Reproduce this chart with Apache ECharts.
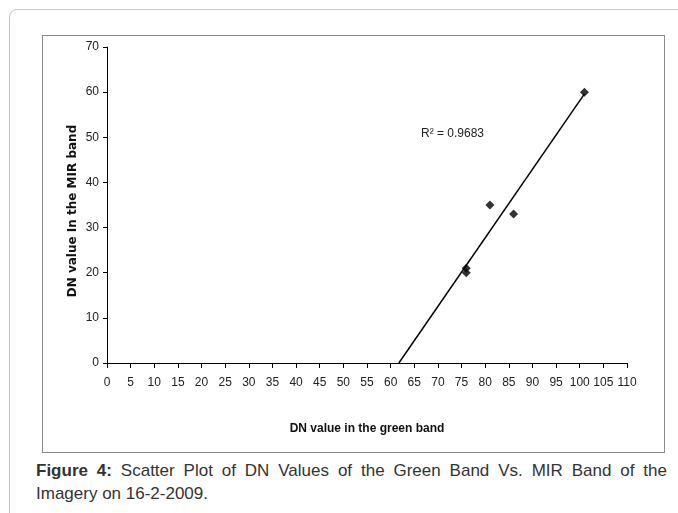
<!DOCTYPE html>
<html>
<head>
<meta charset="utf-8">
<script src="https://cdn.jsdelivr.net/npm/echarts@6/dist/echarts.min.js"></script>
<style>
  html, body { margin: 0; padding: 0; background: #fff; width: 678px; height: 513px; overflow: hidden; }
  #frame {
    position: absolute; left: 9px; top: 9px; width: 700px; height: 540px;
    border: 1px solid #c4c4c4; border-radius: 8px 0 0 0; box-sizing: border-box;
  }
  #box {
    position: absolute; left: 42px; top: 35px; width: 623px; height: 418px;
    border: 1px solid #8a8a8a; box-sizing: border-box;
  }
  #chart { position: absolute; left: 42px; top: 35px; width: 623px; height: 418px; }
  #caption {
    position: absolute; left: 36px; top: 459px; width: 631px; text-align: justify;
    font-family: "Liberation Sans", Arial, sans-serif; font-size: 17px; line-height: 23px; color: #333;
  }
</style>
</head>
<body>
<div id="frame"></div>
<div id="box"></div>
<div id="chart"></div>
<div id="caption"><b>Figure 4:</b> Scatter Plot of DN Values of the Green Band Vs. MIR Band of the Imagery on 16-2-2009.</div>
<script>
// DN values
const greenBand = [76, 76, 81, 86, 101];
const mirBand = [21, 20, 35, 33, 60];
const rSquaredText = "R\u00b2 = 0.9683";

// least squares trend line
const n = greenBand.length;
const mx = greenBand.reduce((a, b) => a + b, 0) / n;
const my = mirBand.reduce((a, b) => a + b, 0) / n;
let sxy = 0, sxx = 0;
for (let i = 0; i < n; i++) {
  sxy += (greenBand[i] - mx) * (mirBand[i] - my);
  sxx += (greenBand[i] - mx) * (greenBand[i] - mx);
}
const slope = sxy / sxx;
const intercept = my - slope * mx;
const xStart = -intercept / slope;
const xEnd = Math.max(...greenBand);
const trend = [[xStart, 0], [xEnd, slope * xEnd + intercept]];

const points = greenBand.map((x, i) => [x, mirBand[i]]);

const font = '"Liberation Sans Narrow", "Arial Narrow", "Liberation Sans", Arial, sans-serif';
const chart = echarts.init(document.getElementById("chart"));
chart.setOption({
  animation: false,
  grid: { left: 65, right: 38, top: 12, bottom: 90 },
  xAxis: {
    type: "value", min: 0, max: 110, interval: 5,
    name: "DN value in the green band", nameLocation: "middle", nameGap: 60,
    nameTextStyle: { fontFamily: font, fontSize: 12, fontWeight: "bold", color: "#111" },
    axisLine: { lineStyle: { color: "#000", width: 1 } },
    axisTick: { show: true, length: 5, lineStyle: { color: "#000" } },
    axisLabel: { margin: 14, fontFamily: font, fontSize: 12, color: "#222" },
    splitLine: { show: false }
  },
  yAxis: {
    type: "value", min: 0, max: 70, interval: 10,
    name: "DN value In the MIR band", nameLocation: "middle", nameGap: 28,
    nameMoveOverlap: false,
    nameTextStyle: {
      fontFamily: '"DejaVu Sans", sans-serif', fontSize: 12, fontWeight: "bold", color: "#111",
      padding: [0, 12, 0, 0]
    },
    axisLine: { show: true, lineStyle: { color: "#000", width: 1 } },
    axisTick: { show: true, length: 4, lineStyle: { color: "#000" } },
    axisLabel: { margin: 8, fontFamily: font, fontSize: 12, color: "#222" },
    splitLine: { show: false }
  },
  series: [
    {
      type: "line", data: trend, showSymbol: false, silent: true,
      lineStyle: { color: "#000", width: 1.5 }
    },
    {
      type: "scatter", data: points, symbol: "diamond", symbolSize: 9,
      itemStyle: { color: "#000" }
    }
  ],
  graphic: [{
    type: "text", left: 379, top: 93,
    style: { text: rSquaredText, fontFamily: font, fontSize: 12, fill: "#222" }
  }]
});
</script>
</body>
</html>
